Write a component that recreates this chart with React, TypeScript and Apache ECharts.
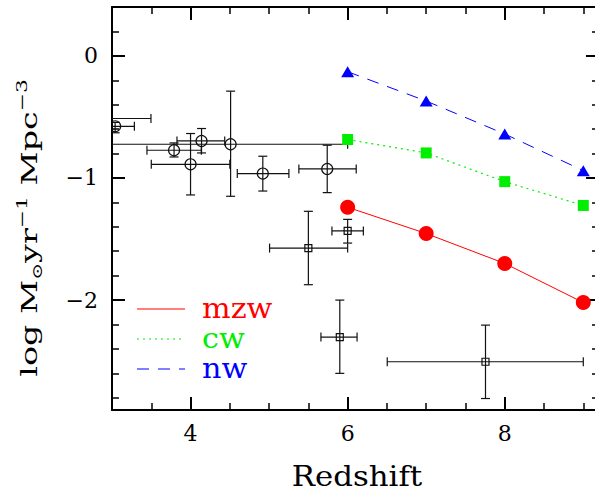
import React, { useEffect, useRef } from "react";
import * as echarts from "echarts";

// Model predictions
const redshifts = [6, 7, 8, 9];
const mzw = [-1.24, -1.455, -1.7, -2.02];
const cw = [-0.685, -0.795, -1.03, -1.225];
const nw = [-0.13, -0.37, -0.64, -0.94];

// Observations: open circles
const circZ = [3.04, 3.79, 4.14, 4.0, 4.51, 4.92, 5.74];
const circLogRho = [-0.577, -0.773, -0.697, -0.888, -0.724, -0.964, -0.926];
const circZLo = [2.8, 3.445, 3.827, 3.5, 2.5, 4.595, 5.379];
const circZHi = [3.285, 4.137, 4.435, 4.5, 6.0, 5.252, 6.109];
const circLo = [-0.63, -0.828, -0.795, -1.139, -1.15, -1.107, -1.12];
const circHi = [-0.545, -0.713, -0.595, -0.636, -0.289, -0.822, -0.732];

// Observations: open squares
const sqZ = [2.95, 6.0, 5.5, 5.9, 7.755];
const sqLogRho = [-0.513, -1.434, -1.574, -2.303, -2.505];
const sqZLo = [2.5, 5.8, 5.006, 5.66, 6.504];
const sqZHi = [3.496, 6.2, 6.0, 6.12, 9.0];
const sqLo = [-0.55, -1.533, -1.874, -2.6, -2.806];
const sqHi = [-0.48, -1.339, -1.273, -2.0, -2.205];

// Tick labels
const xTickValues = [4, 6, 8];
const yTickValues = [0, -1, -2];

const legendNames = ["mzw", "cw", "nw"];
const legendColors = ["#ff0000", "#00ee00", "#0000ff"];

const SERIF = "DejaVu Serif";

function fmtNum(v: number) {
  return v < 0 ? "\u2212" + Math.abs(v) : String(v);
}

function errRender(kind: "circle" | "square") {
  return (params: any, api: any) => {
    const x = api.value(0);
    const y = api.value(1);
    const c = api.coord([x, y]);
    const pxl = api.coord([api.value(2), y]);
    const pxh = api.coord([api.value(3), y]);
    const pyl = api.coord([x, api.value(4)]);
    const pyh = api.coord([x, api.value(5)]);
    const cap = 4.5;
    const style = { stroke: "#111", lineWidth: 1.2, fill: null };
    const ln = (x1: number, y1: number, x2: number, y2: number) => ({
      type: "line",
      shape: { x1, y1, x2, y2 },
      style,
    });
    const children: any[] = [
      ln(pxl[0], c[1], pxh[0], c[1]),
      ln(pxl[0], c[1] - cap, pxl[0], c[1] + cap),
      ln(pxh[0], c[1] - cap, pxh[0], c[1] + cap),
      ln(c[0], pyl[1], c[0], pyh[1]),
      ln(c[0] - cap, pyl[1], c[0] + cap, pyl[1]),
      ln(c[0] - cap, pyh[1], c[0] + cap, pyh[1]),
    ];
    if (kind === "circle") {
      children.push({
        type: "circle",
        shape: { cx: c[0], cy: c[1], r: 5.5 },
        style: { stroke: "#111", lineWidth: 1.2, fill: null },
      });
    } else {
      children.push({
        type: "rect",
        shape: { x: c[0] - 3.5, y: c[1] - 3.5, width: 7, height: 7 },
        style: { stroke: "#111", lineWidth: 1.2, fill: null },
      });
    }
    return { type: "group", children };
  };
}

export default function App() {
  const ref = useRef<HTMLDivElement>(null);

  useEffect(() => {
    if (!ref.current) return;
    const chart = echarts.init(ref.current, null, { renderer: "svg" });

    const axisCommonX = {
      type: "value",
      min: 3,
      max: 9.2,
      splitNumber: 3,
      axisLine: { show: true, onZero: false, lineStyle: { color: "#000", width: 2 } },
      axisTick: { show: true, inside: true, length: 13, lineStyle: { color: "#000", width: 2 } },
      minorTick: { show: true, splitNumber: 4, length: 7, lineStyle: { color: "#000", width: 1.5 } },
      splitLine: { show: false },
      minorSplitLine: { show: false },
    };
    const axisCommonY = {
      type: "value",
      min: -2.9,
      max: 0.4,
      splitNumber: 3,
      axisLine: { show: true, onZero: false, lineStyle: { color: "#000", width: 2 } },
      axisTick: { show: true, inside: true, length: 13, lineStyle: { color: "#000", width: 2 } },
      minorTick: { show: true, splitNumber: 5, length: 7, lineStyle: { color: "#000", width: 1.5 } },
      splitLine: { show: false },
      minorSplitLine: { show: false },
    };

    const circData = circZ.map((z, i) => [z, circLogRho[i], circZLo[i], circZHi[i], circLo[i], circHi[i]]);
    const sqData = sqZ.map((z, i) => [z, sqLogRho[i], sqZLo[i], sqZHi[i], sqLo[i], sqHi[i]]);

    const legendY = [309, 339, 369];
    const legendDash: any[] = [null, [2, 4], [12, 9]];

    const graphic: any[] = [];
    legendNames.forEach((name, i) => {
      graphic.push({
        type: "line",
        shape: { x1: 137, y1: legendY[i], x2: 185, y2: legendY[i] },
        style: { stroke: legendColors[i], lineWidth: 1, lineDash: legendDash[i] || undefined },
      });
      graphic.push({
        type: "text",
        x: 202,
        y: legendY[i] - 1,
        scaleX: 1.08,
        style: {
          text: name,
          fill: legendColors[i],
          fontFamily: SERIF,
          fontSize: 28,
          lineHeight: 24,
          textAlign: "left",
          textVerticalAlign: "middle",
        },
      });
    });
    graphic.push({
      type: "text",
      x: 357,
      y: 476,
      scaleX: 1.1,
      style: {
        text: "Redshift",
        fill: "#000",
        fontFamily: SERIF,
        fontSize: 28,
        lineHeight: 26,
        textAlign: "center",
        textVerticalAlign: "middle",
      },
    });
    graphic.push({
      type: "text",
      x: 29,
      y: 228,
      rotation: Math.PI / 2,
      scaleX: 1.45,
      style: {
        text: "log M{sun|\u2299}yr{sup|\u22121} Mpc{sup|\u22123}",
        fill: "#000",
        fontFamily: SERIF,
        fontSize: 23,
        lineHeight: 30,
        textAlign: "center",
        textVerticalAlign: "middle",
        rich: {
          sun: { fontFamily: SERIF, fontSize: 14, verticalAlign: "bottom", lineHeight: 14, fill: "#000" },
          sup: { fontFamily: SERIF, fontSize: 15, verticalAlign: "top", lineHeight: 15, fill: "#000" },
        },
      },
    });

    chart.setOption({
      animation: false,
      backgroundColor: "#fff",
      grid: { left: 112, right: 1, top: 7, bottom: 82, containLabel: false },
      xAxis: [
        {
          ...axisCommonX,
          position: "bottom",
          axisLabel: {
            show: true,
            margin: 12,
            color: "#000",
            fontFamily: SERIF,
            fontSize: 22,
            showMinLabel: false,
            showMaxLabel: false,
            formatter: (v: number) => (xTickValues.includes(v) ? fmtNum(v) : ""),
          },
        },
        { ...axisCommonX, position: "top", axisLabel: { show: false } },
      ],
      yAxis: [
        {
          ...axisCommonY,
          position: "left",
          axisLabel: {
            show: true,
            margin: 14,
            color: "#000",
            fontFamily: SERIF,
            fontSize: 22,
            showMinLabel: false,
            showMaxLabel: false,
            formatter: (v: number) => (yTickValues.includes(Math.round(v * 1000) / 1000) ? fmtNum(v) : ""),
          },
        },
        { ...axisCommonY, position: "right", axisLabel: { show: false } },
      ],
      graphic,
      series: [
        {
          type: "custom",
          name: "obsCircles",
          xAxisIndex: 0,
          yAxisIndex: 0,
          clip: true,
          renderItem: errRender("circle"),
          data: circData,
          z: 2,
        },
        {
          type: "custom",
          name: "obsSquares",
          xAxisIndex: 0,
          yAxisIndex: 0,
          clip: true,
          renderItem: errRender("square"),
          data: sqData,
          z: 2,
        },
        {
          type: "line",
          name: "mzw",
          data: redshifts.map((z, i) => [z, mzw[i]]),
          symbol: "circle",
          symbolSize: 15,
          itemStyle: { color: "#ff0000" },
          lineStyle: { color: "#ff0000", width: 1 },
          z: 5,
        },
        {
          type: "line",
          name: "cw",
          data: redshifts.map((z, i) => [z, cw[i]]),
          symbol: "rect",
          symbolSize: 11,
          itemStyle: { color: "#00ee00" },
          lineStyle: { color: "#00ee00", width: 1.2, type: [2, 4] },
          z: 5,
        },
        {
          type: "line",
          name: "nw",
          data: redshifts.map((z, i) => [z, nw[i]]),
          symbol: "triangle",
          symbolSize: [13, 11],
          itemStyle: { color: "#0000ff" },
          lineStyle: { color: "#0000ff", width: 1, type: [12, 9] },
          z: 5,
        },
      ],
    });

    return () => chart.dispose();
  }, []);

  return (
    <div
      ref={ref}
      style={{ position: "fixed", left: 0, top: 0, width: 600, height: 492, background: "#fff" }}
    />
  );
}
